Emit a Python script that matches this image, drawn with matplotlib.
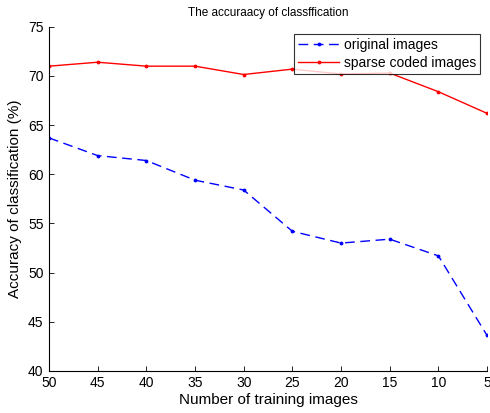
import numpy as np
import matplotlib.pyplot as plt

plt.rcParams['font.family'] = ['Liberation Sans', 'DejaVu Sans']

n_train = [50, 45, 40, 35, 30, 25, 20, 15, 10, 5]
original = [63.7, 61.9, 61.4, 59.4, 58.4, 54.2, 53.0, 53.4, 51.7, 43.6]
sparse = [71.0, 71.4, 71.0, 71.0, 70.15, 70.7, 70.2, 70.3, 68.4, 66.2]

fig = plt.figure(figsize=(4.9, 4.13), dpi=100)
ax = fig.add_axes([0.1, 0.102, 0.894, 0.833])

x = np.arange(len(n_train))
ax.plot(x, original, color='blue', linestyle=(0, (7, 4)), linewidth=1.0,
        marker='.', markersize=3.5, label='original images')
ax.plot(x, sparse, color='red', linestyle='-', linewidth=1.0,
        marker='.', markersize=3.5, label='sparse coded images')

ax.set_xlim(0, len(n_train) - 1)
ax.set_ylim(40, 75)
ax.set_xticks(x)
ax.set_xticklabels([str(v) for v in n_train])
ax.set_yticks(np.arange(40, 76, 5))
ax.tick_params(direction='in', labelsize=10, length=3.5, width=0.6, pad=4)
for s in ['top', 'right']:
    ax.spines[s].set_visible(False)
for s in ['left', 'bottom']:
    ax.spines[s].set_linewidth(0.8)

ax.set_xlabel('Number of training images', fontsize=11, labelpad=2)
ax.set_ylabel('Accuracy of classification (%)', fontsize=11, labelpad=4)
ax.set_title('The accuraacy of classffication', fontsize=8.5, pad=8)

leg = ax.legend(loc='upper right', bbox_to_anchor=(0.984, 0.98), fontsize=10,
                frameon=True, fancybox=False, edgecolor='black',
                borderpad=0.3, labelspacing=0.3, handlelength=3.0,
                handletextpad=0.3, borderaxespad=0)
leg.get_frame().set_linewidth(0.8)

fig.savefig('out.png', dpi=100)
